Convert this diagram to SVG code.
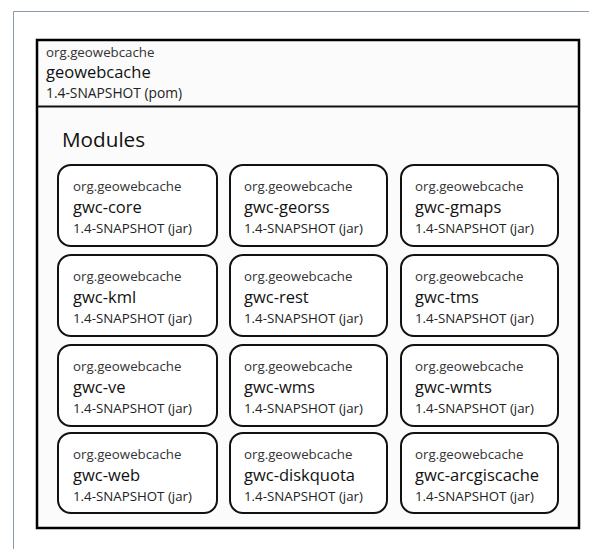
<svg xmlns="http://www.w3.org/2000/svg" width="589" height="549" viewBox="0 0 589 549">
<style>
text{font-family:"Open Sans","Liberation Sans",sans-serif;fill:#222}
.g{font-size:13.3px;fill:#333}
.n{font-size:16.5px;fill:#111}
.v{font-size:13.3px;fill:#222}
.box{fill:#fff;stroke:#111;stroke-width:2}
</style>
<rect width="589" height="549" fill="#fff"/>
<path d="M13.5 549V11.5H589" fill="none" stroke="#8a9aac" stroke-width="1"/>
<g id="root">
<rect x="37" y="40" width="542" height="488" fill="#fbfbfb" stroke="#000" stroke-width="2.5"/>
<line x1="37" y1="106.5" x2="579" y2="106.5" stroke="#111" stroke-width="2"/>
<text x="46" y="57" class="g">org.geowebcache</text>
<text x="46" y="78" style="font-size:16.5px;fill:#111">geowebcache</text>
<text x="46" y="98" style="font-size:13.8px">1.4-SNAPSHOT (pom)</text>
<text x="62" y="147" style="font-size:20.7px;fill:#111">Modules</text>
</g>
<g id="gwc-core"><rect class="box" x="58" y="165" width="159" height="81" rx="13"/><text x="73" y="191" class="g">org.geowebcache</text><text x="73" y="213" class="n">gwc-core</text><text x="73" y="233" class="v">1.4-SNAPSHOT (jar)</text></g>
<g id="gwc-georss"><rect class="box" x="230" y="165" width="157" height="81" rx="13"/><text x="244" y="191" class="g">org.geowebcache</text><text x="244" y="213" class="n">gwc-georss</text><text x="244" y="233" class="v">1.4-SNAPSHOT (jar)</text></g>
<g id="gwc-gmaps"><rect class="box" x="401" y="165" width="157" height="81" rx="13"/><text x="415" y="191" class="g">org.geowebcache</text><text x="415" y="213" class="n">gwc-gmaps</text><text x="415" y="233" class="v">1.4-SNAPSHOT (jar)</text></g>
<g id="gwc-kml"><rect class="box" x="58" y="255" width="159" height="81" rx="13"/><text x="73" y="281" class="g">org.geowebcache</text><text x="73" y="303" class="n">gwc-kml</text><text x="73" y="323" class="v">1.4-SNAPSHOT (jar)</text></g>
<g id="gwc-rest"><rect class="box" x="230" y="255" width="157" height="81" rx="13"/><text x="244" y="281" class="g">org.geowebcache</text><text x="244" y="303" class="n">gwc-rest</text><text x="244" y="323" class="v">1.4-SNAPSHOT (jar)</text></g>
<g id="gwc-tms"><rect class="box" x="401" y="255" width="157" height="81" rx="13"/><text x="415" y="281" class="g">org.geowebcache</text><text x="415" y="303" class="n">gwc-tms</text><text x="415" y="323" class="v">1.4-SNAPSHOT (jar)</text></g>
<g id="gwc-ve"><rect class="box" x="58" y="345" width="159" height="81" rx="13"/><text x="73" y="371" class="g">org.geowebcache</text><text x="73" y="393" class="n">gwc-ve</text><text x="73" y="413" class="v">1.4-SNAPSHOT (jar)</text></g>
<g id="gwc-wms"><rect class="box" x="230" y="345" width="157" height="81" rx="13"/><text x="244" y="371" class="g">org.geowebcache</text><text x="244" y="393" class="n">gwc-wms</text><text x="244" y="413" class="v">1.4-SNAPSHOT (jar)</text></g>
<g id="gwc-wmts"><rect class="box" x="401" y="345" width="157" height="81" rx="13"/><text x="415" y="371" class="g">org.geowebcache</text><text x="415" y="393" class="n">gwc-wmts</text><text x="415" y="413" class="v">1.4-SNAPSHOT (jar)</text></g>
<g id="gwc-web"><rect class="box" x="58" y="433" width="159" height="80" rx="13"/><text x="73" y="459" class="g">org.geowebcache</text><text x="73" y="481" class="n">gwc-web</text><text x="73" y="501" class="v">1.4-SNAPSHOT (jar)</text></g>
<g id="gwc-diskquota"><rect class="box" x="230" y="433" width="157" height="80" rx="13"/><text x="244" y="459" class="g">org.geowebcache</text><text x="244" y="481" class="n">gwc-diskquota</text><text x="244" y="501" class="v">1.4-SNAPSHOT (jar)</text></g>
<g id="gwc-arcgiscache"><rect class="box" x="401" y="433" width="157" height="80" rx="13"/><text x="415" y="459" class="g">org.geowebcache</text><text x="415" y="481" class="n">gwc-arcgiscache</text><text x="415" y="501" class="v">1.4-SNAPSHOT (jar)</text></g>
</svg>
